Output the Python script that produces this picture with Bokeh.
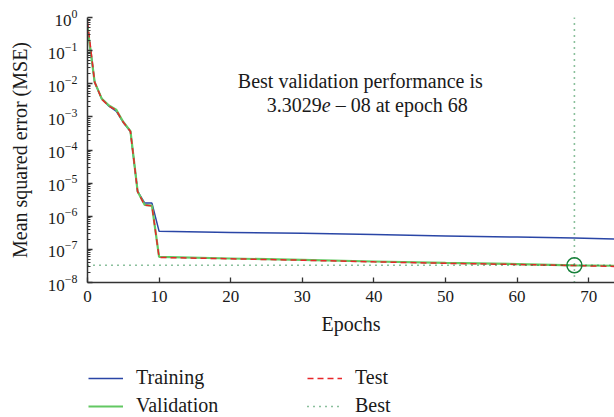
from bokeh.plotting import figure
from bokeh.layouts import column
from bokeh.models import FixedTicker, Legend, LegendItem, Label
from bokeh.embed import file_html
from bokeh.resources import INLINE

# ---- data ----
epochs = [0, 1, 2, 3, 4, 5, 6, 7, 8, 9, 10, 20, 30, 40, 50, 60, 68, 74]
training = [0.55, 0.0111, 3.5e-3, 2.1e-3, 1.5e-3, 6.8e-4, 3.6e-4, 5.6e-6, 2.5e-6, 2.5e-6,
            3.5e-7, 3.25e-7, 3.05e-7, 2.8e-7, 2.55e-7, 2.35e-7, 2.2e-7, 2.06e-7]
validation = [0.5, 0.0112, 3.5e-3, 2.2e-3, 1.65e-3, 7.0e-4, 3.7e-4, 5.6e-6, 2.2e-6, 2.1e-6,
              5.9e-8, 5.3e-8, 4.8e-8, 4.3e-8, 3.9e-8, 3.6e-8, 3.3029e-8, 3.2e-8]
test = [0.75, 0.0112, 3.4e-3, 2.1e-3, 1.6e-3, 6.9e-4, 3.6e-4, 5.5e-6, 2.15e-6, 2.05e-6,
        5.7e-8, 5.2e-8, 4.7e-8, 4.2e-8, 3.8e-8, 3.5e-8, 3.25e-8, 3.05e-8]
best_epoch = 68
best_value = 3.3029e-8
x_end = 73.6
y_min, y_max = 1e-8, 1.0
x_ticks = [0, 10, 20, 30, 40, 50, 60, 70]
y_major = [10.0 ** k for k in range(-8, 1)]
y_minor = [m * 10.0 ** k for k in range(-8, 0) for m in range(2, 10)]
series_names = ["Training", "Validation", "Test", "Best"]

FONT = "Liberation Serif"
TXT = "#1a1a1a"
C_TRAIN, C_VAL, C_TEST, C_BEST = "#2a46a6", "#62c862", "#e8262a", "#17803a"

p = figure(width=614, height=352, y_axis_type="log",
           x_range=(0, x_end), y_range=(y_min, y_max),
           output_backend="svg", toolbar_location=None,
           min_border_left=87, min_border_right=0,
           min_border_top=17, min_border_bottom=70)
p.outline_line_color = None
p.xgrid.visible = False
p.ygrid.visible = False

p.line(epochs, training, line_color=C_TRAIN, line_width=1.5)
p.line(epochs, validation, line_color=C_VAL, line_width=2.2)
p.line(epochs, test, line_color=C_TEST, line_width=1.5, line_dash="6 4")
p.line([0, x_end], [best_value, best_value], line_color=C_BEST,
       line_width=1.6, line_dash="1 5")
p.line([best_epoch, best_epoch], [y_min, y_max], line_color=C_BEST,
       line_width=1.6, line_dash="1 5")
p.scatter([best_epoch], [best_value], size=15, fill_color=None,
          line_color=C_BEST, line_width=1.5)

# axes
for ax in (p.xaxis, p.yaxis):
    ax.axis_line_color = "#333333"
    ax.axis_line_width = 1.5
    ax.major_tick_line_color = "#333333"
    ax.major_tick_line_width = 1.3
    ax.minor_tick_line_color = "#333333"
    ax.minor_tick_line_width = 1.2
    ax.major_label_text_font = FONT
    ax.major_label_text_font_size = "17px"
    ax.major_label_text_color = TXT
    ax.axis_label_text_font = FONT
    ax.axis_label_text_font_size = "20px"
    ax.axis_label_text_font_style = "normal"
    ax.axis_label_text_color = TXT
    ax.major_tick_out = 0
    ax.major_tick_in = 5
    ax.minor_tick_out = 0
    ax.minor_tick_in = 3

p.xaxis.ticker = FixedTicker(ticks=x_ticks)
p.xaxis.minor_tick_line_color = None
p.xaxis.major_label_standoff = 8
p.xaxis.axis_label = "Epochs"
p.xaxis.axis_label_standoff = 8

p.yaxis.ticker = FixedTicker(ticks=y_major, minor_ticks=y_minor)
p.yaxis.major_label_standoff = 10
p.yaxis.axis_label = "Mean squared error (MSE)"
p.yaxis.axis_label_standoff = 14

# annotation
p.add_layout(Label(x=38.1, y=0.0117, text="Best validation performance is",
                   text_align="center", text_baseline="alphabetic",
                   text_font=FONT, text_font_size="20px", text_color=TXT))
ax_e = 32.7
y2 = 2.35e-3
p.add_layout(Label(x=ax_e, y=y2, text="3.3029", text_align="right",
                   text_baseline="alphabetic", text_font=FONT,
                   text_font_size="20px", text_color=TXT))
p.add_layout(Label(x=ax_e, y=y2, text="e", text_align="left",
                   text_baseline="alphabetic", text_font=FONT,
                   text_font_style="italic",
                   text_font_size="20px", text_color=TXT))
p.add_layout(Label(x=ax_e, y=y2, x_offset=14, text="\u2013 08 at epoch 68",
                   text_align="left", text_baseline="alphabetic",
                   text_font=FONT, text_font_size="20px", text_color=TXT))

# legend strip below the chart (its frame aligns with the chart's frame)
q = figure(width=614, height=65, x_range=(-2, -1), y_range=(0, 1),
           output_backend="svg", toolbar_location=None,
           x_axis_location=None, y_axis_location=None,
           min_border_left=87, min_border_right=0,
           min_border_top=0, min_border_bottom=0)
q.outline_line_color = None
q.xgrid.visible = False
q.ygrid.visible = False
l_train = q.line(epochs, training, line_color=C_TRAIN, line_width=1.5)
l_val = q.line(epochs, validation, line_color=C_VAL, line_width=2.2)
l_test = q.line(epochs, test, line_color=C_TEST, line_width=1.5, line_dash="6 4")
l_best = q.line(epochs, validation, line_color=C_BEST, line_width=1.6, line_dash="1 5")

legend = Legend(items=[LegendItem(label=n, renderers=[r]) for n, r in
                       zip(series_names, [l_train, l_val, l_test, l_best])],
                location=(1, 0), orientation="vertical", nrows=2,
                background_fill_alpha=0, border_line_color=None,
                padding=0, margin=0, spacing=5,
                glyph_width=35, glyph_height=22, label_height=22,
                label_width=166, label_standoff=13,
                label_text_font=FONT, label_text_font_size="20px",
                label_text_color=TXT)
q.add_layout(legend)

layout = column(p, q, spacing=0)
open("out.html", "w").write(file_html(layout, INLINE))
